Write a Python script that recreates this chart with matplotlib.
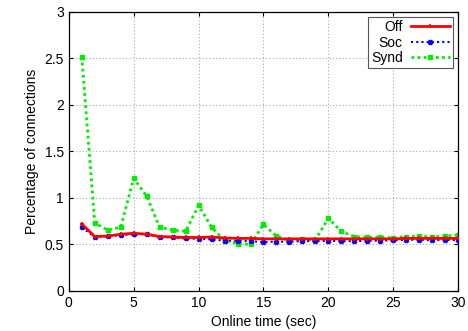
import matplotlib
matplotlib.use("Agg")
import matplotlib.pyplot as plt

plt.rcParams['font.family'] = ['Liberation Sans', 'DejaVu Sans']

t = list(range(1, 31))
off = [0.72, 0.585, 0.59, 0.61, 0.62, 0.61, 0.585, 0.58, 0.575, 0.575,
       0.58, 0.57, 0.565, 0.565, 0.56, 0.56, 0.56, 0.56, 0.56, 0.56,
       0.56, 0.56, 0.56, 0.56, 0.56, 0.565, 0.565, 0.565, 0.565, 0.565]
soc = [0.685, 0.58, 0.59, 0.60, 0.61, 0.61, 0.58, 0.575, 0.565, 0.56,
       0.555, 0.54, 0.54, 0.535, 0.525, 0.53, 0.53, 0.535, 0.535, 0.54,
       0.535, 0.535, 0.54, 0.54, 0.545, 0.55, 0.55, 0.545, 0.55, 0.545]
synd = [2.52, 0.73, 0.655, 0.685, 1.21, 1.02, 0.685, 0.655, 0.64, 0.92,
        0.685, 0.54, 0.51, 0.50, 0.715, 0.59, 0.54, 0.555, 0.55, 0.78,
        0.64, 0.585, 0.575, 0.58, 0.57, 0.585, 0.59, 0.58, 0.59, 0.60]

fig = plt.figure(figsize=(4.68, 3.31), dpi=100)
ax = fig.add_axes([0.147, 0.121, 0.832, 0.843])

ax.plot(t, off, color='#ff0000', lw=2, marker='+', ms=3.5, mew=1.2, label='Off', zorder=4)
ax.plot(t, soc, color='#0000ff', lw=1.5, ls=(0, (1, 1.5)), marker='x', ms=3.5, mew=2, label='Soc', zorder=3)
ax.plot(t, synd, color='#00ee00', lw=2, ls=(0, (1, 1.2)), marker='s', ms=3.5, label='Synd', zorder=2)

ax.set_xlim(0, 30)
ax.set_ylim(0, 3)
ax.set_xticks(range(0, 31, 5))
ax.set_yticks([0, 0.5, 1, 1.5, 2, 2.5, 3])
ax.set_yticklabels(['0', '0.5', '1', '1.5', '2', '2.5', '3'])
ax.grid(True, color='#aaaaaa', ls=(0, (1, 2)), lw=0.8)
ax.tick_params(direction='in', top=True, right=True, length=3, labelsize=10)
for s in ax.spines.values():
    s.set_linewidth(0.9)
ax.set_xlabel('Online time (sec)', fontsize=10)
ax.set_ylabel('Percentage of connections', fontsize=10)

leg = ax.legend(loc='upper right', markerfirst=False, fontsize=10, fancybox=False,
                framealpha=1, edgecolor='#555555', borderpad=0.2, labelspacing=0.1,
                handlelength=2.8, handletextpad=0.6, borderaxespad=0.4)
leg.get_frame().set_linewidth(0.8)

fig.savefig('out.png', dpi=100)
